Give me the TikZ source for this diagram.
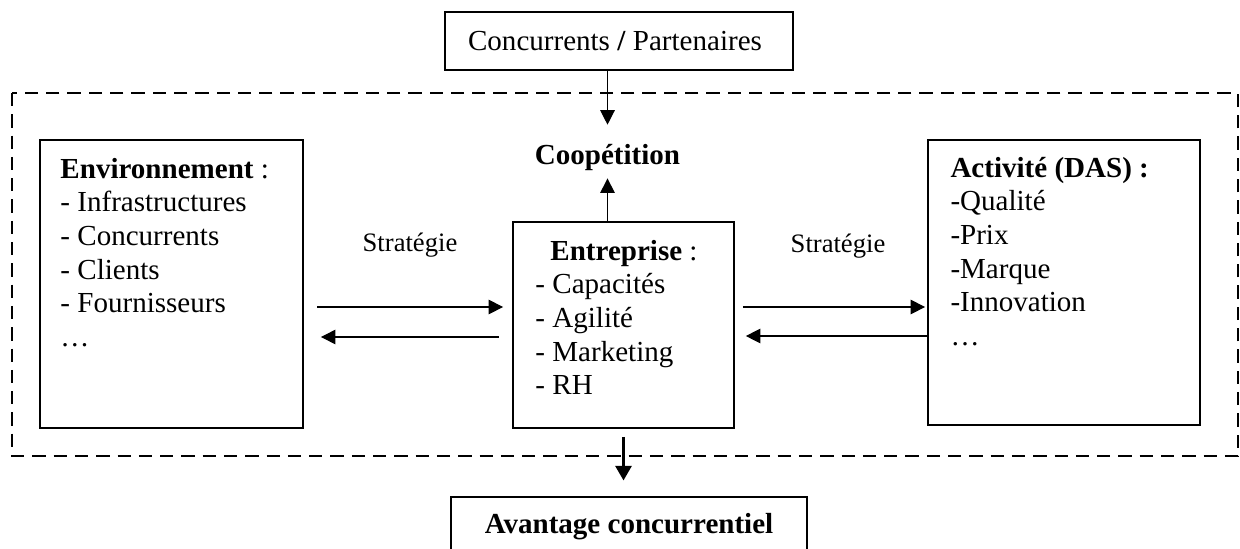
\documentclass[tikz,border=0pt]{standalone}
\usepackage{fontspec}
\setmainfont{Liberation Serif}
\usetikzlibrary{arrows.meta}
\begin{document}
\begin{tikzpicture}[x=0.41322pt,y=-0.41322pt,
  box/.style={draw, line width=0.8pt, inner sep=0pt},
  txt/.style={inner sep=0pt, anchor=base west, font=\fontsize{12}{14}\selectfont},
  ctxt/.style={inner sep=0pt, anchor=base, font=\fontsize{12}{14}\selectfont},
  lab/.style={inner sep=0pt, anchor=base, font=\fontsize{11}{13}\selectfont},
  arr/.style={-{Triangle[length=6pt,width=6pt]}, line width=0.5pt},
  bigarr/.style={-{Triangle[length=6pt,width=6.5pt]}, line width=1.3pt},
  frame/.style={draw, line width=1.2pt, dash pattern=on 5.5pt off 3.3pt}
]
\useasboundingbox (0,0) rectangle (1240,548);

% dashed frame around the firm and its surroundings
\draw[frame] (12,93) rectangle (1238,456);

% boxes
\node[box, line width=1pt, minimum width=143.8pt, minimum height=24pt] (partners) at (619,41) {};
\node[box, minimum width=108.7pt, minimum height=119pt] (env) at (171.5,284) {};
\node[box, minimum width=91.3pt, minimum height=85.1pt] (ent) at (623.5,325) {};
\node[box, minimum width=112.4pt, minimum height=117.4pt] (act) at (1064,282.5) {};
\node[box, line width=1.2pt, minimum width=147.1pt, minimum height=24pt] (av) at (629,526) {};

% texts
\node[ctxt] (partnersT) at (615,50) {Concurrents \textbf{/} Partenaires};
\node[ctxt, font=\fontsize{12}{14}\selectfont\bfseries] (coop) at (607.5,164) {Coopétition};
\node[ctxt, font=\fontsize{12}{14}\selectfont\bfseries] (avT) at (629,533) {Avantage concurrentiel};

\node[txt] (envT) at (60,178) {\textbf{Environnement} :};
\foreach \t [count=\i] in {- Infrastructures, - Concurrents, - Clients, - Fournisseurs, …}
  \node[txt] (env\i) at (60,{178+33.7*\i}) {\t};

\node[ctxt] (entT) at (624,260) {\textbf{Entreprise} :};
\foreach \t [count=\i] in {- Capacités, - Agilité, - Marketing, - RH}
  \node[txt] (ent\i) at (535,{260+33.7*\i}) {\t};

\node[txt] (actT) at (950,177) {\textbf{Activité (DAS) :}};
\foreach \t [count=\i] in {-Qualité, -Prix, -Marque, -Innovation, …}
  \node[txt] (act\i) at (950,{177+33.7*\i}) {\t};

\node[lab] (stratL) at (410,251) {Stratégie};
\node[lab] (stratR) at (838,252) {Stratégie};

% connectors
\draw[arr, shorten >=7.7pt] (partners.south -| coop.north) -- (coop.north);
\draw[arr, shorten >=3.2pt] (ent.north -| coop.south) -- (coop.south);

\draw[arr, shorten <=5.4pt, shorten >=3.7pt] (env.east |- 0,307) -- (ent.west |- 0,307);
\draw[arr, shorten <=5.4pt, shorten >=7pt] (ent.west |- 0,337) -- (env.east |- 0,337);

\draw[arr, shorten <=3.3pt, shorten >=0.8pt] (ent.east |- 0,307) -- (act.west |- 0,307);
\draw[arr, shorten >=4.5pt] (act.west |- 0,336) -- (ent.east |- 0,336);

\draw[bigarr, shorten <=3.3pt, shorten >=6.2pt] (ent.south) -- (ent.south |- av.north);
\end{tikzpicture}
\end{document}
